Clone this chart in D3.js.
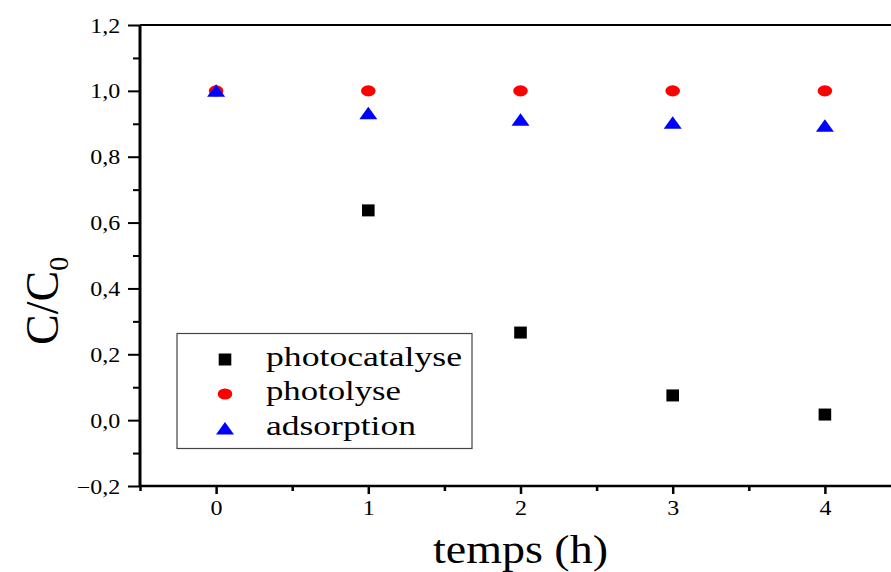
<!DOCTYPE html>
<html lang="fr">
<head>
  <meta charset="UTF-8">
  <title>C/C0 en fonction du temps</title>
  <script src="https://d3js.org/d3.v7.min.js"></script>
  <style>
    body {
      margin: 0;
      background: #ffffff;
    }
    svg {
      display: block;
      font-family: 'Liberation Serif', 'Times New Roman', serif;
    }
  </style>
</head>
<body>
<svg width="891" height="572"></svg>
<script>
// temps (h)
const temps = [0, 1, 2, 3, 4];
// C/C0
const photocatalyse = [null, 0.637, 0.266, 0.075, 0.017];
const photolyse = [1.0, 1.0, 1.0, 1.0, 1.0];
const adsorption = [1.0, 0.932, 0.912, 0.903, 0.894];

const seriesNames = ["photocatalyse", "photolyse", "adsorption"];
const seriesValues = [photocatalyse, photolyse, adsorption];
const seriesColors = ["#000000", "#ff0000", "#0000ff"];

const xMajor = [0, 1, 2, 3, 4];
const xMinor = [-0.5, 0.5, 1.5, 2.5, 3.5];
const yMajor = [-0.2, 0, 0.2, 0.4, 0.6, 0.8, 1.0, 1.2];
const yMinor = [-0.1, 0.1, 0.3, 0.5, 0.7, 0.9, 1.1];

const svg = d3.select("svg");

const x = d3.scaleLinear().domain([-0.5, 4.5]).range([140, 901]);
const y = d3.scaleLinear().domain([-0.2, 1.2]).range([486, 25]);

const fmt = d => d3.format(".1f")(d).replace(".", ",");

// minor ticks
svg.append("g")
  .attr("transform", "translate(0,486)")
  .call(d3.axisBottom(x).tickValues(xMinor).tickSize(5).tickFormat(""))
  .call(g => g.select(".domain").remove())
  .selectAll("line").attr("stroke-width", 2.5);

svg.append("g")
  .attr("transform", "translate(140,0)")
  .call(d3.axisLeft(y).tickValues(yMinor).tickSize(7).tickFormat(""))
  .call(g => g.select(".domain").remove())
  .selectAll("line").attr("stroke-width", 2);

// major ticks + labels
const xAxis = svg.append("g")
  .attr("transform", "translate(0,486)")
  .call(d3.axisBottom(x).tickValues(xMajor).tickSize(8).tickFormat(d => d));
xAxis.select(".domain").remove();
xAxis.selectAll("line").attr("stroke-width", 2.5);
xAxis.selectAll("text")
  .attr("y", 29)
  .attr("dy", null)
  .attr("font-size", 20)
  .attr("font-family", "'Liberation Serif', serif")
  .attr("fill", "#000")
  .attr("transform", "scale(1.2,1)");

const yAxis = svg.append("g")
  .attr("transform", "translate(140,0)")
  .call(d3.axisLeft(y).tickValues(yMajor).tickSize(12).tickFormat(fmt));
yAxis.select(".domain").remove();
yAxis.selectAll("line").attr("stroke-width", 2);
yAxis.selectAll("text")
  .attr("x", -16.5)
  .attr("dy", "0.35em")
  .attr("font-size", 20)
  .attr("font-family", "'Liberation Serif', serif")
  .attr("fill", "#000")
  .attr("transform", "scale(1.2,1)");

// frame
svg.append("line")
  .attr("x1", 140).attr("x2", x(4.5))
  .attr("y1", y(-0.2)).attr("y2", y(-0.2))
  .attr("stroke", "#000").attr("stroke-width", 2.5);
svg.append("line")
  .attr("x1", 140).attr("x2", 140)
  .attr("y1", y(-0.2) + 1).attr("y2", y(1.2))
  .attr("stroke", "#000").attr("stroke-width", 3);
svg.append("line")
  .attr("x1", 140).attr("x2", x(4.5))
  .attr("y1", y(1.2)).attr("y2", y(1.2))
  .attr("stroke", "#000").attr("stroke-width", 2.2);
svg.append("line")
  .attr("x1", x(4.5)).attr("x2", x(4.5))
  .attr("y1", y(-0.2)).attr("y2", y(1.2))
  .attr("stroke", "#000").attr("stroke-width", 3);

// symbols
function drawSymbol(sel, i) {
  if (i === 0) {
    sel.append("rect").attr("x", -6.3).attr("y", -6).attr("width", 12.6).attr("height", 12)
      .attr("fill", seriesColors[i]);
  } else if (i === 1) {
    sel.append("ellipse").attr("rx", 7.3).attr("ry", 5.6)
      .attr("fill", seriesColors[i]);
  } else {
    sel.append("path").attr("d", "M0,-6.5L9,6L-9,6Z")
      .attr("fill", seriesColors[i]);
  }
}

seriesValues.forEach((vals, i) => {
  const pts = temps.map((t, k) => ({ t, v: vals[k] })).filter(d => d.v !== null);
  svg.append("g")
    .selectAll("g")
    .data(pts)
    .join("g")
    .attr("transform", d => `translate(${x(d.t)},${y(d.v)})`)
    .each(function () { drawSymbol(d3.select(this), i); });
});

// legend
const legend = svg.append("g");
legend.append("rect")
  .attr("x", 177).attr("y", 333.5)
  .attr("width", 295).attr("height", 115)
  .attr("fill", "#fff")
  .attr("stroke", "#444").attr("stroke-width", 1.2);

const legendWidths = [196, 135, 150];
seriesNames.forEach((name, i) => {
  const row = legend.append("g")
    .attr("transform", `translate(0,${359.5 + i * 34.5})`);
  const sym = row.append("g").attr("transform", "translate(225,0)");
  drawSymbol(sym, i);
  row.append("text")
    .attr("x", 266).attr("y", 6)
    .attr("font-size", 27)
    .attr("textLength", legendWidths[i])
    .attr("lengthAdjust", "spacingAndGlyphs")
    .text(name);
});

// axis titles
svg.append("text")
  .attr("x", 433).attr("y", 563)
  .attr("font-size", 40)
  .attr("textLength", 175)
  .attr("lengthAdjust", "spacingAndGlyphs")
  .text("temps (h)");

const yTitle = svg.append("text")
  .attr("transform", "translate(58,345) rotate(-90)")
  .attr("font-size", 46);
yTitle.append("tspan").text("C/C");
yTitle.append("tspan").attr("font-size", 28).attr("dy", 10).text("0");
</script>
</body>
</html>
